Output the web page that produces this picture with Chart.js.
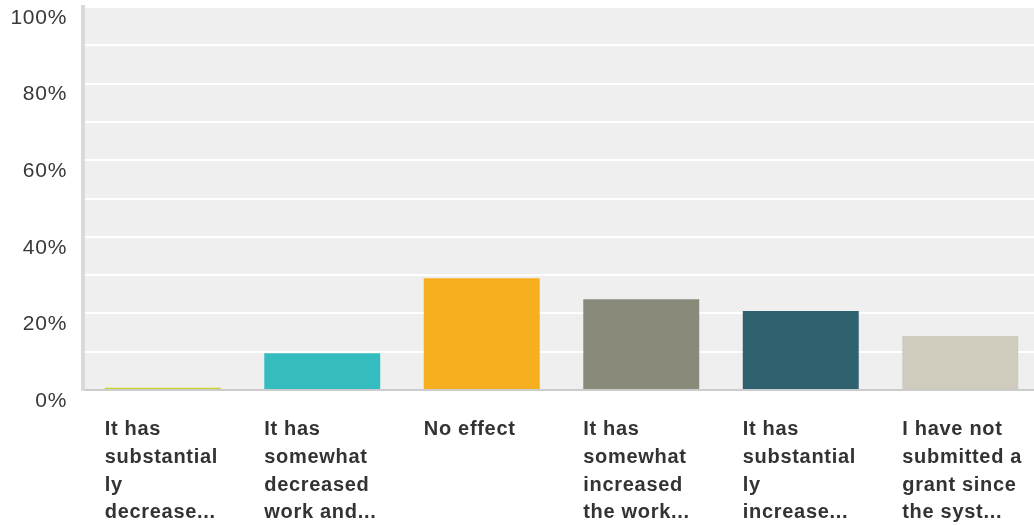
<!DOCTYPE html>
<html>
<head>
<meta charset="utf-8">
<script src="https://cdn.jsdelivr.net/npm/chart.js@4.4.0/dist/chart.umd.min.js"></script>
<style>
  html, body { margin: 0; padding: 0; background: #fff; overflow: hidden; }
  #wrap { width: 1040px; height: 525px; }
</style>
</head>
<body>
<div id="wrap"><canvas id="chart"></canvas></div>
<script>
const categories = [
  ['It has', 'substantial', 'ly', 'decrease...'],
  ['It has', 'somewhat', 'decreased', 'work and...'],
  ['No effect'],
  ['It has', 'somewhat', 'increased', 'the work...'],
  ['It has', 'substantial', 'ly', 'increase...'],
  ['I have not', 'submitted a', 'grant since', 'the syst...']
];
const percentages = [0.6, 9.6, 29.2, 23.7, 20.6, 14.1];
const barColors = ['#ccd12a', '#35bcbf', '#f7af1f', '#8a8a7a', '#2f616f', '#cfccbd'];
const yTickLabels = { 0: '0%', 20: '20%', 40: '40%', 60: '60%', 80: '80%', 100: '100%' };

// grey plot background and slightly wider glyph spacing like the original
const plotBackground = {
  id: 'plotBackground',
  beforeDraw(chart) {
    const { ctx, chartArea } = chart;
    ctx.save();
    ctx.fillStyle = '#efefef';
    ctx.fillRect(chartArea.left, chartArea.top, chartArea.right - chartArea.left, chartArea.bottom - chartArea.top);
    ctx.restore();
    ctx.letterSpacing = '0.7px';
  }
};

// keep the plot area fixed, no automatic padding for overflowing labels
const noPadding = scale => {
  scale.paddingLeft = 0;
  scale.paddingRight = 0;
  scale.paddingTop = 0;
  scale.paddingBottom = 0;
};

const ctx = document.getElementById('chart').getContext('2d');
new Chart(ctx, {
  type: 'bar',
  data: {
    labels: categories,
    datasets: [
      {
        data: percentages,
        backgroundColor: barColors,
        borderWidth: 0,
        categoryPercentage: 1,
        barPercentage: 0.727
      }
    ]
  },
  options: {
    responsive: true,
    maintainAspectRatio: false,
    animation: false,
    layout: { padding: { top: 7, left: 0, right: 0, bottom: 0 } },
    plugins: {
      legend: { display: false },
      tooltip: { enabled: false }
    },
    scales: {
      x: {
        grid: { display: false, drawTicks: false },
        border: { display: true, color: '#cccccc', width: 2 },
        ticks: {
          color: '#333333',
          font: { family: 'Liberation Sans, Arial, sans-serif', size: 20, weight: 'bold', lineHeight: 1.38 },
          maxRotation: 0,
          autoSkip: false,
          align: 'start',
          labelOffset: -58,
          padding: 26
        },
        afterFit: scale => {
          scale.height = 135;
          noPadding(scale);
        }
      },
      y: {
        min: 0,
        max: 100,
        grid: { color: '#ffffff', lineWidth: 2, drawTicks: false },
        border: { display: true, color: '#dadada', width: 4 },
        ticks: {
          stepSize: 10,
          color: '#383838',
          font: { family: 'Liberation Sans, Arial, sans-serif', size: 21 },
          padding: 16,
          labelOffset: 11,
          callback: value => yTickLabels[value] || ''
        },
        afterFit: scale => {
          scale.width = 83;
          noPadding(scale);
        }
      }
    }
  },
  plugins: [plotBackground]
});
</script>
</body>
</html>
